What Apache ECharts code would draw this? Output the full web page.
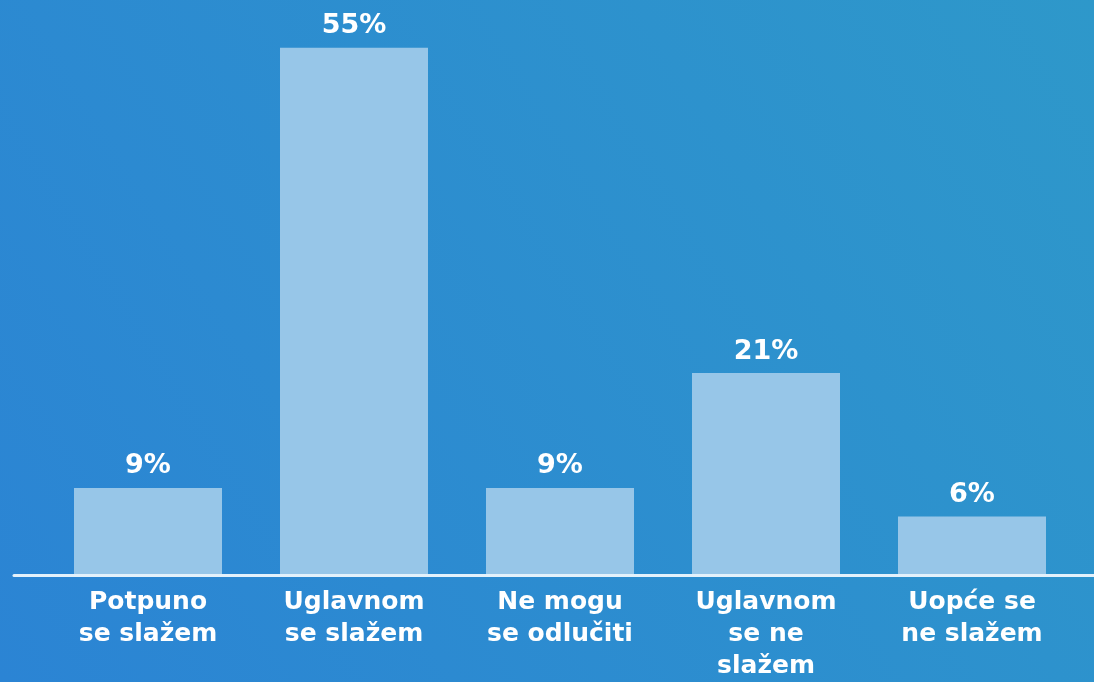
<!DOCTYPE html>
<html>
<head>
<meta charset="utf-8">
<script src="https://cdn.jsdelivr.net/npm/echarts@6/dist/echarts.min.js"></script>
<style>
html,body{margin:0;padding:0;width:1094px;height:682px;overflow:hidden;}
#chart{width:1094px;height:682px;}
</style>
</head>
<body>
<div id="chart"></div>
<script>
const categories = ["Potpuno\nse slažem", "Uglavnom\nse slažem", "Ne mogu\nse odlučiti", "Uglavnom\nse ne\nslažem", "Uopće se\nne slažem"];
const values = [9, 55, 9, 21, 6];

const chart = echarts.init(document.getElementById('chart'));
chart.setOption({
  backgroundColor: {
    type: 'linear', x: 0, y: 1, x2: 1, y2: 0,
    colorStops: [{offset: 0, color: '#2b84d4'}, {offset: 1, color: '#2e98ca'}]
  },
  animation: false,
  grid: [
    {left: 45, right: 19, top: 0, bottom: 107},
    {left: 14, right: 0, top: 0, bottom: 107}
  ],
  xAxis: [
    {
      type: 'category', data: categories, gridIndex: 0,
      axisLine: {show: false}, axisTick: {show: false},
      axisLabel: {
        color: '#ffffff', fontFamily: 'DejaVu Sans', fontWeight: 'bold', fontSize: 25,
        lineHeight: 32, margin: 12, interval: 0
      }
    },
    {
      type: 'category', data: [''], gridIndex: 1,
      axisLine: {show: true, lineStyle: {color: '#e3f1fb', width: 3}},
      axisTick: {show: false}, axisLabel: {show: false}
    }
  ],
  yAxis: [
    {type: 'value', min: 0, max: 60, gridIndex: 0, show: false},
    {type: 'value', min: 0, max: 60, gridIndex: 1, show: false}
  ],
  series: [{
    type: 'bar', data: values, barWidth: 148,
    xAxisIndex: 0, yAxisIndex: 0,
    itemStyle: {color: '#97c6e8'},
    label: {
      show: true, position: 'top', distance: 8,
      formatter: '{c}%', color: '#ffffff', fontFamily: 'DejaVu Sans', fontWeight: 'bold', fontSize: 27
    }
  }]
});
</script>
</body>
</html>
